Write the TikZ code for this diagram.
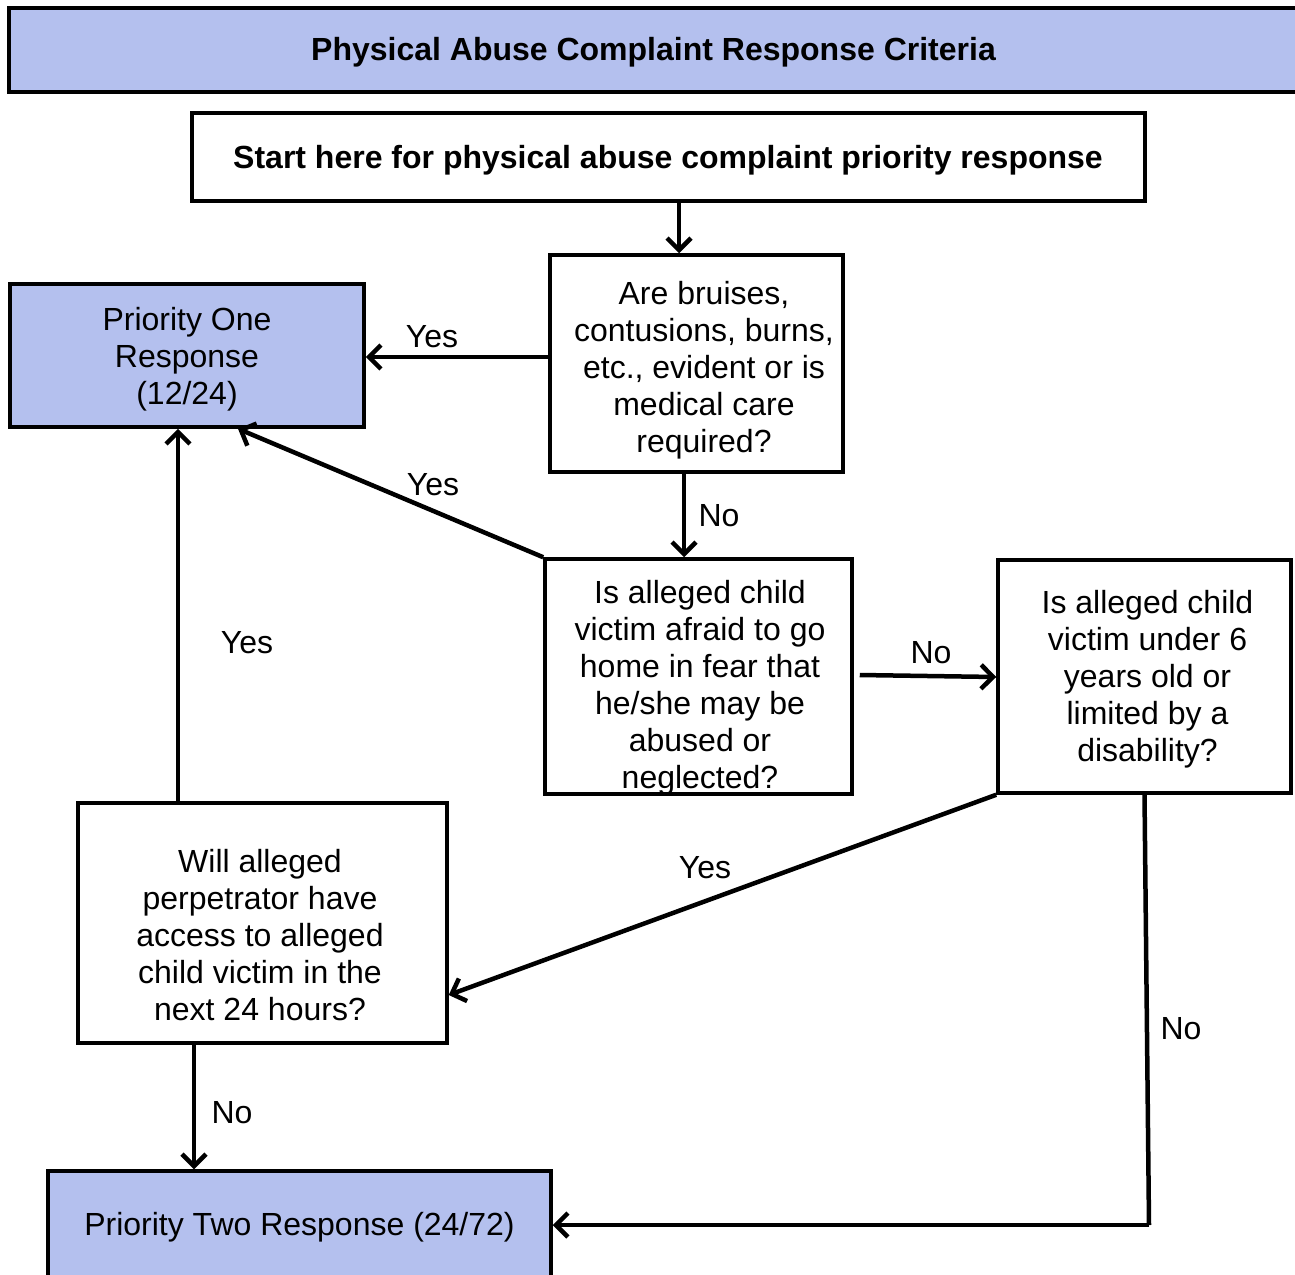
\documentclass[tikz,border=0pt]{standalone}
\usepackage{fontspec}
\setmainfont{Liberation Sans}
\usetikzlibrary{arrows.meta}
\definecolor{boxblue}{RGB}{180,192,238}
\tikzset{
  box/.style={draw=black, line width=3.5pt, rectangle, inner sep=0pt},
  bluebox/.style={box, fill=boxblue},
  txt/.style={align=center, inner sep=0pt, font=\fontsize{32}{37}\selectfont},
  btxt/.style={align=center, inner sep=0pt, font=\fontsize{32}{37}\selectfont\bfseries},
  lbl/.style={inner sep=0pt, font=\fontsize{32}{37}\selectfont},
  arr/.style={line width=4.5pt, -{Straight Barb[length=12pt,width=24pt,line width=4.5pt]}}
}
\begin{document}
\begin{tikzpicture}[x=1pt,y=-1pt]
\useasboundingbox (0,0) rectangle (1295,1274);
% boxes
\node[bluebox, line width=4pt, minimum width=1291pt, minimum height=84pt] (title) at (654.5,50) {};
\node[btxt] (titlet) at (653.5,52.5) {Physical Abuse Complaint Response Criteria};
\node[box, minimum width=953pt, minimum height=88pt] (start) at (668.5,157) {};
\node[btxt] (startt) at (668,160.5) {Start here for physical abuse complaint priority response};
\node[box, minimum width=293pt, minimum height=217pt] (q1) at (696.5,363.5) {};
\node[txt] (q1t) at (704,370) {Are bruises,\\contusions, burns,\\etc., evident or is\\medical care\\required?};
\node[bluebox, minimum width=354pt, minimum height=143pt] (p1) at (187,355.5) {};
\node[txt] (p1t) at (187,359) {Priority One\\Response\\(12/24)};
\node[box, minimum width=307pt, minimum height=235pt] (q2) at (698.5,676.5) {};
\node[txt] (q2t) at (700,687.5) {Is alleged child\\victim afraid to go\\home in fear that\\he/she may be\\abused or\\neglected?};
\node[box, minimum width=293pt, minimum height=233pt] (q3) at (1144.5,676.5) {};
\node[txt] (q3t) at (1147.5,679) {Is alleged child\\victim under 6\\years old or\\limited by a\\disability?};
\node[box, minimum width=369pt, minimum height=240pt] (q4) at (262.5,923) {};
\node[txt] (q4t) at (260,935) {Will alleged\\perpetrator have\\access to alleged\\child victim in the\\next 24 hours?};
\node[bluebox, minimum width=503pt, minimum height=118pt] (p2) at (299.5,1230) {};
\node[txt] (p2t) at (299.5,1227.5) {Priority Two Response (24/72)};
% connectors
\draw[arr] ([xshift=10.5pt]start.south) -- ([xshift=10.5pt]start.south |- q1.north);
\draw[arr] ([yshift=6.5pt]q1.west) -- ([yshift=6.5pt]q1.west -| p1.east);
\draw[arr] ([xshift=-12.5pt]q1.south) -- ([xshift=-12.5pt]q1.south |- q2.north);
\draw[arr] (q2.north west) -- ([xshift=51pt]p1.south);
\draw[arr] ([xshift=6pt,yshift=1.5pt]q2.east) -- ([yshift=-0.5pt]q3.west);
\draw[arr] (q3.south west) -- ([yshift=-72pt]q4.east);
\coordinate (k) at (1149,1225);
\draw[line width=4.5pt] (q3.south) -- (k);
\draw[arr] (k) -- ([yshift=5pt]p2.east);
\draw[arr] ([xshift=-84.5pt]q4.north) -- ([xshift=-84.5pt]q4.north |- p1.south);
\draw[arr] ([xshift=-68.5pt]q4.south) -- ([xshift=-68.5pt]q4.south |- p2.north);
% labels
\node[lbl] (l1) at (432,337) {Yes};
\node[lbl] (l2) at (719,516) {No};
\node[lbl] (l3) at (433,485) {Yes};
\node[lbl] (l4) at (931,653) {No};
\node[lbl] (l5) at (705,868) {Yes};
\node[lbl] (l6) at (1181,1029) {No};
\node[lbl] (l7) at (247,643) {Yes};
\node[lbl] (l8) at (232,1113) {No};
\end{tikzpicture}
\end{document}
